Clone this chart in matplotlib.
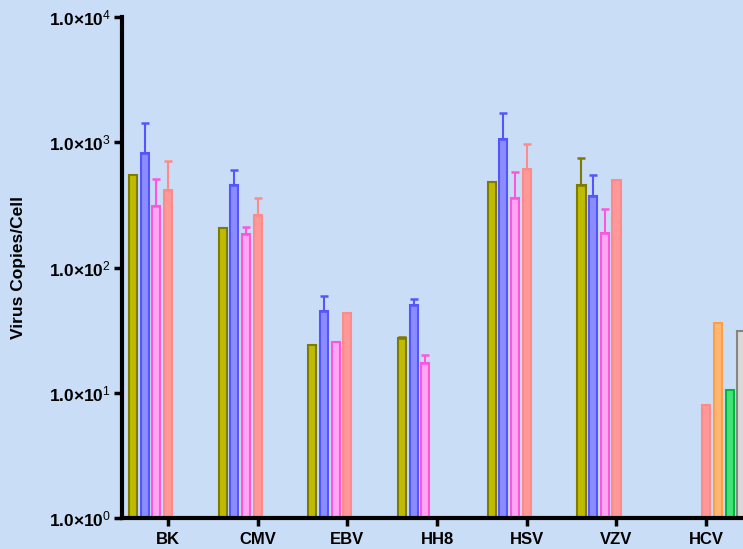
import numpy as np
import matplotlib.pyplot as plt

plt.rcParams['font.family'] = ['Liberation Sans', 'DejaVu Sans']
plt.rcParams['mathtext.fontset'] = 'custom'
plt.rcParams['mathtext.rm'] = 'Liberation Sans'
plt.rcParams['mathtext.it'] = 'Liberation Sans'
plt.rcParams['mathtext.bf'] = 'Liberation Sans:bold'

viruses = ['BK', 'CMV', 'EBV', 'HH8', 'HSV', 'VZV', 'HCV']
nan = np.nan

# mean copies/cell for each series, per virus
olive = [545, 206, 23.9, 27.5, 479, 459, nan]
blue = [827, 459, 44.7, 50.3, 1070, 370, nan]
pink = [310, 185, 25.6, 17.4, 361, 187, nan]
salmon = [415, 262, 43.1, nan, 608, 497, 8.0]
orange = [nan, nan, nan, nan, nan, nan, 36.1]
green = [nan, nan, nan, nan, nan, nan, 10.6]
grey = [nan, nan, nan, nan, nan, nan, 30.9]

# upper error bars
olive_err = [0, 0, 0, 0.5, 0, 290, 0]
blue_err = [610, 138, 14, 6, 636, 175, 0]
pink_err = [196, 25, 0, 2.6, 222, 108, 0]
salmon_err = [290, 96, 0, 0, 361, 0, 0]
none_err = [0] * 7

series = [
    (olive, olive_err, '#bfbb00', '#7f7a00'),
    (blue, blue_err, '#8a8cff', '#5555ff'),
    (pink, pink_err, '#ffa6f2', '#ff55dd'),
    (salmon, salmon_err, '#ff9898', '#ff8a8a'),
    (orange, none_err, '#ffb673', '#ff9f45'),
    (green, none_err, '#44e27a', '#00b83a'),
    (grey, none_err, '#d9d9d9', '#858585'),
]

bg = '#c9ddf6'
fig = plt.figure(figsize=(7.43, 5.49), dpi=100, facecolor=bg)
ax = fig.add_axes([0.164, 0.0565, 0.836, 0.9125], facecolor=bg)
ax.set_yscale('log')

x = np.arange(len(viruses))
step = 0.13
width = 0.09
for i, (vals, errs, fc, ec) in enumerate(series):
    pos = x + (i - 3) * step
    vals = np.array(vals, dtype=float)
    errs = np.array(errs, dtype=float)
    ax.bar(pos, vals - 1, width, bottom=1, color=fc, edgecolor=ec, linewidth=1.5, zorder=2)
    has_err = (errs > 0) & ~np.isnan(vals)
    if has_err.any():
        ax.errorbar(pos[has_err], vals[has_err],
                    yerr=[np.zeros(has_err.sum()), errs[has_err]],
                    fmt='none', ecolor=ec, elinewidth=1.5, capsize=3,
                    capthick=1.8, zorder=3)

ax.set_ylim(1, 1e4)
ax.set_xlim(-0.513, 6.41)
ax.set_yticks([1, 10, 100, 1000, 10000])
ax.set_yticklabels([r'1.0×10$^{%d}$' % k for k in range(5)],
                   fontsize=12.5, fontweight='bold')
ax.yaxis.set_minor_locator(plt.NullLocator())
ax.set_xticks(x)
ax.set_xticklabels(viruses, fontsize=12, fontweight='bold')
ax.tick_params(axis='both', width=2.5, length=6, direction='out')
ax.tick_params(axis='x', pad=4)
ax.tick_params(axis='y', pad=2)

for s in ['top', 'right']:
    ax.spines[s].set_visible(False)
for s in ['left', 'bottom']:
    ax.spines[s].set_linewidth(3)

ax.set_ylabel('Virus Copies/Cell', fontsize=12.5, fontweight='bold', labelpad=16)

fig.savefig('out.png', dpi=100, facecolor=bg)
